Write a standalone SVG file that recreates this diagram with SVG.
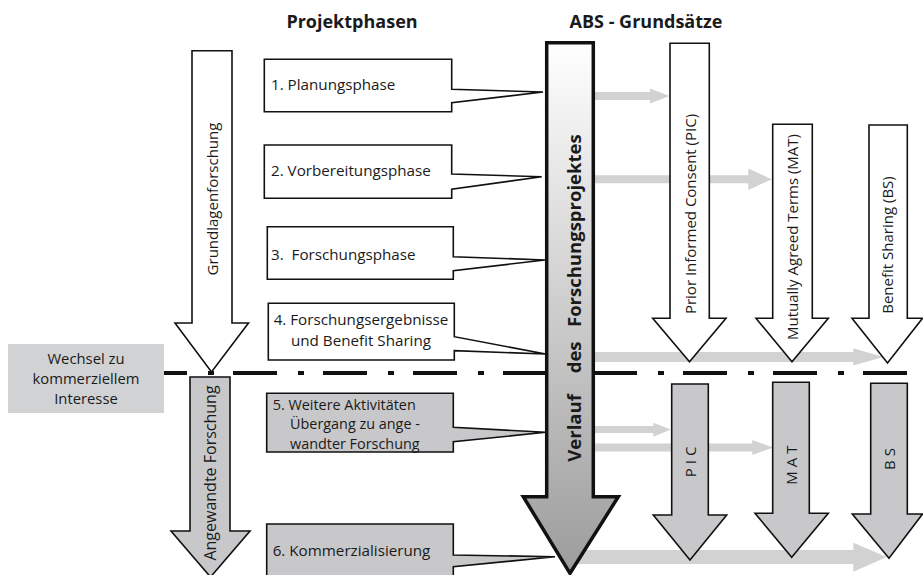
<svg xmlns="http://www.w3.org/2000/svg" width="923" height="575" viewBox="0 0 923 575">
<defs>
<linearGradient id="gMain" x1="0" y1="42" x2="0" y2="574" gradientUnits="userSpaceOnUse">
<stop offset="0" stop-color="#ffffff"/>
<stop offset="1" stop-color="#9c9c9c"/>
</linearGradient>
</defs>
<style>
text{font-family:"Open Sans","Noto Sans","DejaVu Sans",sans-serif;fill:#1a1a1a}
.title{font-size:18px;font-weight:bold;text-anchor:middle}
.lbl{font-size:15.2px}
.rot{font-size:15px;text-anchor:middle}
.box{stroke:#111;stroke-width:1.6;stroke-linejoin:miter}
.w{fill:#ffffff}
.g{fill:#c8c8ca}
.bar{fill:#d2d2d2}
.arr{stroke:#111;stroke-width:1.6;stroke-linejoin:miter}
.vt{font-size:18.5px;font-weight:bold}
</style>
<rect width="923" height="575" fill="#ffffff"/>
<text class="title" x="352" y="28">Projektphasen</text>
<text class="title" x="646" y="28">ABS - Grundsätze</text>

<g id="connectors">
<polygon class="bar" points="593,92 650,92 650,88.5 669.5,96 650,103.5 650,100 593,100"/>
<polygon class="bar" points="593,175.3 748.3,175.3 748.3,168.5 771.7,179.3 748.3,190 748.3,183.3 593,183.3"/>
<polygon class="bar" points="593,352 853.3,352 853.3,348.3 883.3,357 853.3,365.5 853.3,362 593,362"/>
<polygon class="bar" points="593,426 653.3,426 653.3,422.7 670.7,429.5 653.3,436.7 653.3,433 593,433"/>
<polygon class="bar" points="593,443.5 752.3,443.5 752.3,440 773.3,447.5 752.3,455 752.3,451.5 593,451.5"/>
<polygon class="bar" points="576,550 853.3,550 853.3,542.7 886.7,557 853.3,571.7 853.3,564 576,564"/>
<line x1="164" y1="373" x2="912" y2="373" stroke="#111" stroke-width="4" stroke-dasharray="44 21 6 19" stroke-dashoffset="21"/>
</g>

<g id="wechsel">
<rect x="8" y="344" width="156" height="69" fill="#d1d2d4"/>
<text class="lbl" x="86" y="363.5" text-anchor="middle" style="font-size:14.8px">Wechsel zu</text>
<text class="lbl" x="86" y="383.8" text-anchor="middle" style="font-size:14.8px">kommerziellem</text>
<text class="lbl" x="86" y="404.1" text-anchor="middle" style="font-size:14.8px">Interesse</text>
</g>

<g id="grundlagen">
<path class="arr w" d="M192,50.7 H232 V323 H248.5 L211.5,372 L175,323 H192 Z"/>
<text class="rot" transform="translate(218,199) rotate(-90)">Grundlagenforschung</text>
</g>

<g id="angewandt">
<path class="arr g" d="M190,377 H230 V531 H250 L210.5,577 L171,531 H190 Z"/>
<text class="rot" transform="translate(216,473) rotate(-90)" style="font-size:16px">Angewandte Forschung</text>
</g>

<g id="phase1">
<path class="box w" d="M264.3,59.3 H451.7 V89.3 L543,92 L451.7,102.7 V111.7 H264.3 Z"/>
<text class="lbl" x="271" y="90">1. Planungsphase</text>
</g>
<g id="phase2">
<path class="box w" d="M264.3,145 H451.7 V174 L541.7,176.7 L451.7,189.3 V198.3 H264.3 Z"/>
<text class="lbl" x="271" y="175.5">2. Vorbereitungsphase</text>
</g>
<g id="phase3">
<path class="box w" d="M267.3,226.7 H453.3 V256.7 L545,260 L453.3,270.7 V279.3 H267.3 Z"/>
<text class="lbl" x="271" y="260" style="white-space:pre">3.  Forschungsphase</text>
</g>
<g id="phase4">
<path class="box w" d="M268.3,303.3 H454.3 V336.7 L545.7,354 L454.3,350.7 V360 H268.3 Z"/>
<text class="lbl" x="361" y="324.5" text-anchor="middle">4. Forschungsergebnisse</text>
<text class="lbl" x="361" y="345.5" text-anchor="middle">und Benefit Sharing</text>
</g>
<g id="phase5">
<path class="box g" d="M266.7,393.3 H453.3 V427.3 L545.7,432.3 L453.3,441.7 V452 H266.7 Z"/>
<text class="lbl" x="272.7" y="409.6" style="font-size:14.4px">5. Weitere Aktivitäten</text>
<text class="lbl" x="290" y="429.2" style="font-size:14.4px">Übergang zu ange -</text>
<text class="lbl" x="290" y="448.8" style="font-size:14.4px">wandter Forschung</text>
</g>
<g id="phase6">
<path class="box g" d="M266.7,524 H453.3 V555 L555,556.7 L453.3,566.7 V578 H266.7 Z"/>
<text class="lbl" x="272.7" y="556">6. Kommerzialisierung</text>
</g>

<g id="verlauf">
<path d="M546.7,42.7 H593.3 V496.7 H618.3 L570,573.3 L523.3,496.7 H546.7 Z" fill="url(#gMain)" stroke="#111" stroke-width="3.5" stroke-linejoin="miter"/>
<text class="vt" transform="translate(581,0) rotate(-90)"><tspan x="-461.7">Verlauf</tspan><tspan x="-373.3">des</tspan><tspan x="-327">Forschungsprojektes</tspan></text>
</g>

<g id="pic">
<path class="arr w" d="M670,43.3 H709.3 V318.3 H726 L689.5,361.7 L652.7,318.3 H670 Z"/>
<text class="rot" transform="translate(696,214) rotate(-90)">Prior Informed Consent (PIC)</text>
</g>
<g id="mat">
<path class="arr w" d="M772.7,124.3 H812.3 V318.3 H828.3 L792,361.7 L756,318.3 H772.7 Z"/>
<text class="rot" transform="translate(798,237) rotate(-90)">Mutually Agreed Terms (MAT)</text>
</g>
<g id="bs">
<path class="arr w" d="M869,125 H907.3 V318.3 H922.5 L887.5,363 L852,318.3 H869 Z"/>
<text class="rot" transform="translate(893,245) rotate(-90)">Benefit Sharing (BS)</text>
</g>

<g id="pic2">
<path class="arr g" d="M671.7,384 H708.3 V515 H726.7 L690,560 L653.3,515 H671.7 Z"/>
<text class="rot" transform="translate(696,460) rotate(-90)" style="letter-spacing:4px">PIC</text>
</g>
<g id="mat2">
<path class="arr g" d="M772.7,382.3 H809.3 V513.3 H828.3 L791.7,557.3 L755,513.3 H772.7 Z"/>
<text class="rot" transform="translate(797,463) rotate(-90)" style="letter-spacing:4px">MAT</text>
</g>
<g id="bs2">
<path class="arr g" d="M870.7,383.3 H907.3 V514 H922.5 L889,558.3 L852.3,514 H870.7 Z"/>
<text class="rot" transform="translate(895,457) rotate(-90)" style="letter-spacing:4px">BS</text>
</g>
</svg>
